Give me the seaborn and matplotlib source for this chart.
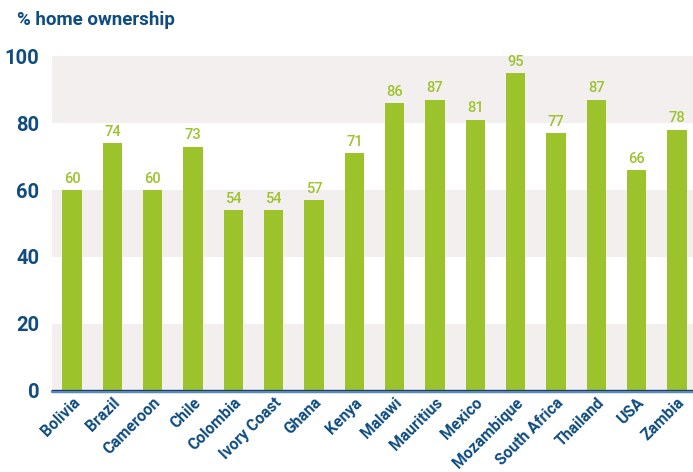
import matplotlib
matplotlib.use("Agg")
import matplotlib.pyplot as plt
import seaborn as sns
import pandas as pd

countries = ["Bolivia", "Brazil", "Cameroon", "Chile", "Colombia", "Ivory Coast", "Ghana",
             "Kenya", "Malawi", "Mauritius", "Mexico", "Mozambique", "South Africa",
             "Thailand", "USA", "Zambia"]
ownership = [60, 74, 60, 73, 54, 54, 57, 71, 86, 87, 81, 95, 77, 87, 66, 78]
yticks = [0, 20, 40, 60, 80, 100]

sns.set_theme(style="white")
plt.rcParams['font.family'] = ["Roboto", "DejaVu Sans"]

BLUE = "#0f4c81"
GREEN = "#9dc32c"
BAND = "#f3efef"

df = pd.DataFrame({"country": countries, "pct": ownership})

fig = plt.figure(figsize=(6.93, 4.72), dpi=100)
ax = fig.add_axes([0.075, 0.172, 0.925, 0.709])

for lo in [0, 40, 80]:
    ax.axhspan(lo, lo + 20, color=BAND, zorder=0, lw=0)

sns.barplot(data=df, x="country", y="pct", color=GREEN, width=0.48, ax=ax,
            saturation=1, zorder=2, linewidth=0)

for i, v in enumerate(ownership):
    ax.text(i, v + 1.3, f"{v}", ha="center", va="bottom", color=GREEN,
            fontsize=10.5, fontweight="medium")

ax.set_xlim(-0.5, 15.4)
ax.set_ylim(0, 100)
ax.set_yticks(yticks)
ax.set_yticklabels([str(t) for t in yticks], fontsize=14.5, fontweight="bold", color=BLUE)
ax.set_xticks(range(len(countries)))
ax.set_xticklabels(countries, rotation=45, ha="right", rotation_mode="anchor",
                   fontsize=11.3, fontweight="bold", color=BLUE)
ax.tick_params(axis="y", length=0, pad=9)
ax.tick_params(axis="x", length=0, pad=3)
ax.set_xlabel("")
ax.set_ylabel("")
for s in ax.spines.values():
    s.set_visible(False)
ax.axhline(0, color="#5b8ab8", lw=2.5, zorder=3, clip_on=False)
ax.axhline(0.3, color="#1d3f63", lw=0.8, zorder=3)

fig.text(0.024, 0.957, "% home ownership", fontsize=13.5, fontweight="bold", color=BLUE,
         ha="left", va="center")

fig.savefig("out.png", dpi=100)
